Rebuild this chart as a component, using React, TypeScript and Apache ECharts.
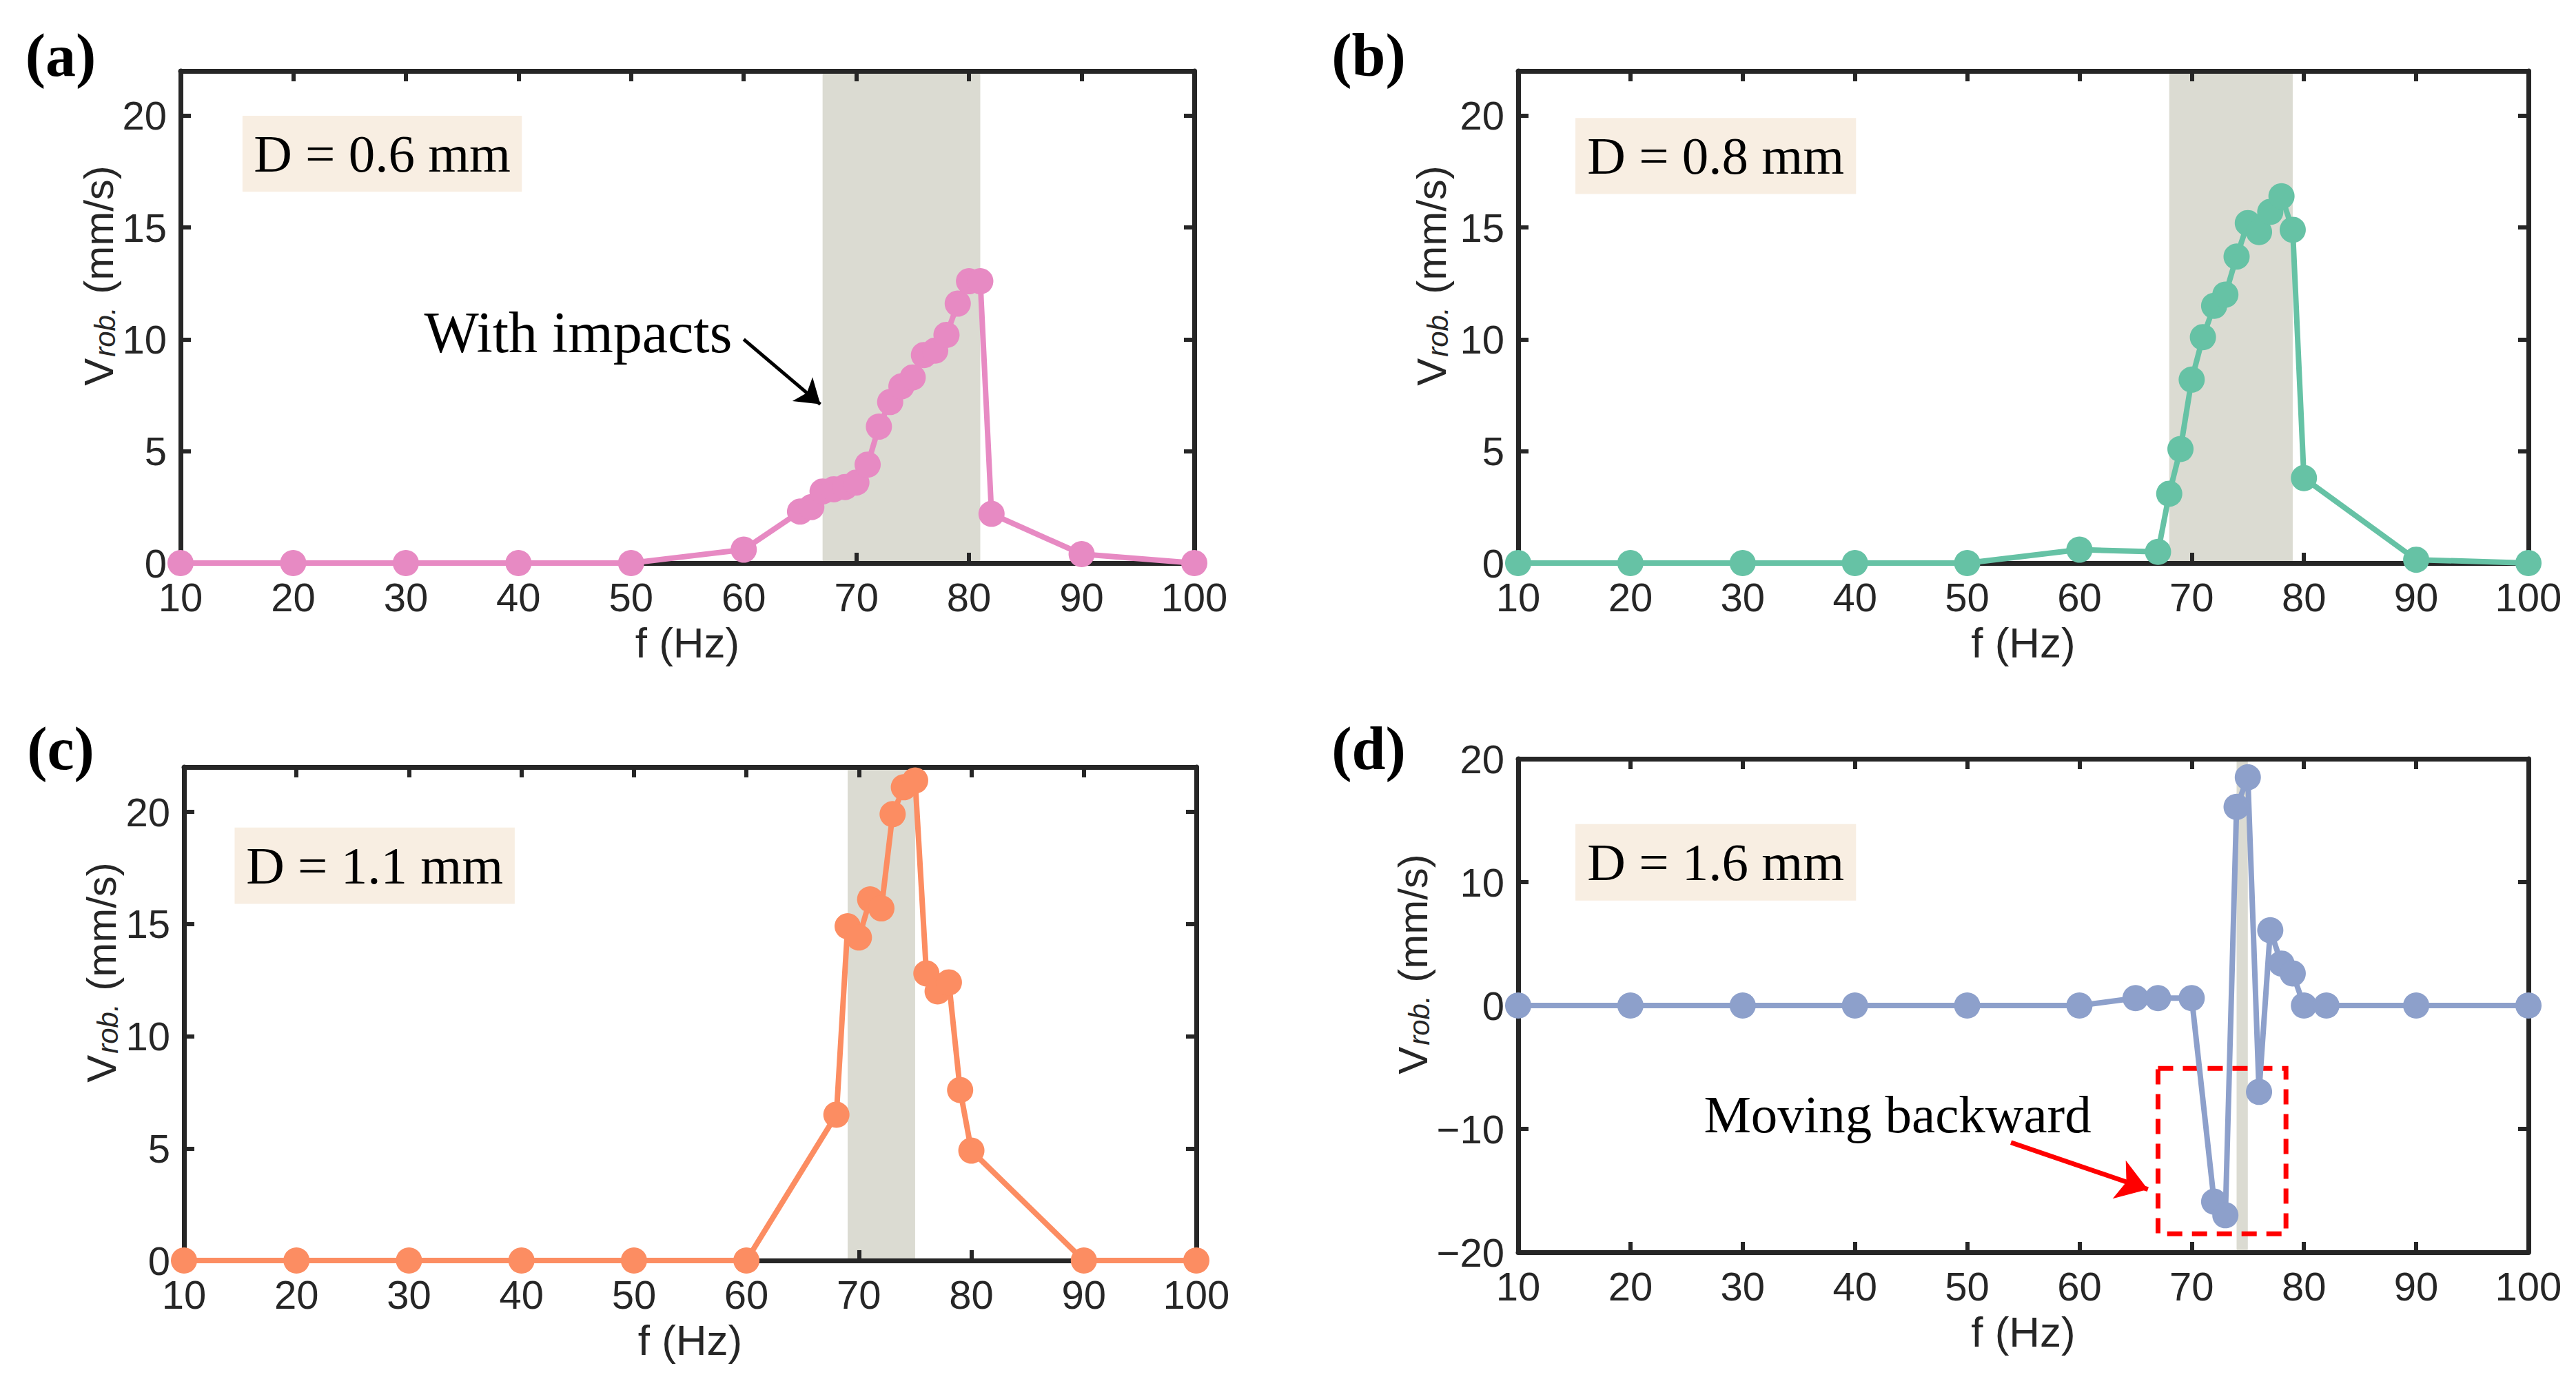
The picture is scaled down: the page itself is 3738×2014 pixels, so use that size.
import React, { useEffect, useRef } from "react";
import * as echarts from "echarts";

// ---------- data ----------
const freqA = [10, 20, 30, 40, 50, 60, 65, 66, 67, 68, 69, 70, 71, 72, 73, 74, 75, 76, 77, 78, 79, 80, 81, 82, 90, 100];
const velA = [0, 0, 0, 0, 0, 0.6, 2.3, 2.5, 3.2, 3.3, 3.4, 3.6, 4.4, 6.1, 7.2, 7.9, 8.3, 9.3, 9.5, 10.2, 11.6, 12.6, 12.6, 2.2, 0.4, 0];

const freqB = [10, 20, 30, 40, 50, 60, 67, 68, 69, 70, 71, 72, 73, 74, 75, 76, 77, 78, 79, 80, 90, 100];
const velB = [0, 0, 0, 0, 0, 0.6, 0.5, 3.1, 5.1, 8.2, 10.1, 11.5, 12.0, 13.7, 15.2, 14.8, 15.7, 16.4, 14.9, 3.8, 0.15, 0];

const freqC = [10, 20, 30, 40, 50, 60, 68, 69, 70, 71, 72, 73, 74, 75, 76, 77, 78, 79, 80, 90, 100];
const velC = [0, 0, 0, 0, 0, 0, 6.5, 14.9, 14.4, 16.1, 15.7, 19.9, 21.1, 21.4, 12.8, 12.0, 12.4, 7.6, 4.9, 0, 0];

const freqD = [10, 20, 30, 40, 50, 60, 65, 67, 70, 72, 73, 74, 75, 76, 77, 78, 79, 80, 82, 90, 100];
const velD = [0, 0, 0, 0, 0, 0, 0.6, 0.6, 0.6, -15.9, -17.0, 16.1, 18.5, -7.0, 6.1, 3.4, 2.6, 0, 0, 0, 0];

const panelLabels = ["(a)", "(b)", "(c)", "(d)"];
const dLabels = ["D = 0.6 mm", "D = 0.8 mm", "D = 1.1 mm", "D = 1.6 mm"];
// shaded impact bands [fromHz, toHz]
const bands = [[67, 81], [68, 79], [69, 75], [74, 75]];
// label boxes [x1, y1, x2, y2] in data units
const labelBoxes = [
  [15.5, 20.0, 40.3, 16.6],
  [15.1, 19.9, 40.1, 16.5],
  [14.5, 19.3, 39.4, 15.9],
  [15.1, 14.7, 40.1, 8.5],
];
const yRanges = [[0, 22, 5], [0, 22, 5], [0, 22, 5], [-20, 20, 10]];
const xRange = [10, 100, 10];

const annotA = { text: "With impacts", at: [45.3, 10.3], arrowFrom: [60, 10.0], arrowTo: [66.8, 7.1] };
const annotD = { text: "Moving backward", at: [43.8, -8.8], arrowFrom: [53.9, -11.1], arrowTo: [66.1, -14.9] };
const redBox = [67.0, -5.1, 78.4, -18.5];

// ---------- styles ----------
const colors = ["#E78AC3", "#66C2A5", "#FC8D62", "#8DA0CB"];
const axisColor = "#262626";
const bandColor = "#DBDBD2";
const boxColor = "#F8EEE2";
const SANS = "Liberation Sans";
const SERIF = "Liberation Serif";

const grids = [
  { left: 262, top: 103, width: 1471, height: 714 },
  { left: 2203, top: 103, width: 1466, height: 714 },
  { left: 267, top: 1113, width: 1469, height: 716 },
  { left: 2203, top: 1101, width: 1466, height: 716 },
];
const labelPos = [[88, 80], [1986, 80], [88, 1086], [1986, 1086]];
const yNameGaps = [84, 96, 90, 108];

export default function App() {
  const ref = useRef<HTMLDivElement>(null);

  useEffect(() => {
    if (!ref.current) return;
    const chart = echarts.init(ref.current, undefined, { renderer: "svg" });

    const freqs = [freqA, freqB, freqC, freqD];
    const vels = [velA, velB, velC, velD];

    const xAxes: any[] = [];
    const yAxes: any[] = [];
    const series: any[] = [];

    const tickStyle = { show: true, inside: true, length: 15, lineStyle: { color: axisColor, width: 6 } };
    const lineStyle = { show: true, onZero: false, lineStyle: { color: axisColor, width: 7 } };

    for (let i = 0; i < 4; i++) {
      const [ymin, ymax, yint] = yRanges[i];
      xAxes.push({
        type: "value", gridIndex: i, position: "bottom", min: xRange[0], max: xRange[1], interval: xRange[2],
        z: 1.5,
        axisLine: lineStyle, axisTick: tickStyle, splitLine: { show: false },
        axisLabel: { color: axisColor, fontFamily: SANS, fontSize: 58, margin: 20 },
        name: "f (Hz)", nameLocation: "middle", nameGap: 84,
        nameTextStyle: { color: axisColor, fontFamily: SANS, fontSize: 62 },
      });
      xAxes.push({
        type: "value", gridIndex: i, position: "top", min: xRange[0], max: xRange[1], interval: xRange[2],
        z: 1.5,
        axisLine: lineStyle, axisTick: tickStyle, splitLine: { show: false }, axisLabel: { show: false },
      });
      yAxes.push({
        type: "value", gridIndex: i, position: "left", min: ymin, max: ymax, interval: yint,
        z: 1.5,
        axisLine: lineStyle, axisTick: tickStyle, splitLine: { show: false },
        axisLabel: {
          color: axisColor, fontFamily: SANS, fontSize: 58, margin: 20,
          formatter: (v: number) => (v % yint === 0 ? (v < 0 ? "\u2212" + Math.abs(v) : String(v)) : ""),
        },
        name: "{v|V}{s|rob.}{v| (mm/s)}", nameLocation: "middle", nameGap: yNameGaps[i],
        nameTextStyle: {
          color: axisColor, fontFamily: SANS, fontSize: 60, padding: [0, 0, 0, 120],
          rich: {
            v: { fontFamily: SANS, fontSize: 60, color: axisColor },
            s: { fontFamily: SANS, fontSize: 42, fontStyle: "italic", color: axisColor, verticalAlign: "bottom", padding: [18, 2, 0, 2] },
          },
        },
      });
      yAxes.push({
        type: "value", gridIndex: i, position: "right", min: ymin, max: ymax, interval: yint,
        z: 1.5,
        axisLine: lineStyle, axisTick: tickStyle, splitLine: { show: false }, axisLabel: { show: false },
      });

      const box = labelBoxes[i];
      const areaData: any[] = [
        [
          { xAxis: bands[i][0], itemStyle: { color: bandColor }, label: { show: false } },
          { xAxis: bands[i][1] },
        ],
        [
          {
            coord: [box[0], box[1]],
            itemStyle: { color: boxColor },
            label: {
              show: true, position: "inside", formatter: dLabels[i],
              fontFamily: SERIF, fontSize: 77, color: "#000000",
            },
          },
          { coord: [box[2], box[3]] },
        ],
      ];
      if (i === 3) {
        areaData.push([
          {
            coord: [redBox[0], redBox[1]],
            itemStyle: { color: "rgba(0,0,0,0)", borderColor: "#FF0000", borderWidth: 7, borderType: [22, 14] },
            label: { show: false },
          },
          { coord: [redBox[2], redBox[3]] },
        ]);
      }

      const s: any = {
        type: "line",
        xAxisIndex: i * 2,
        yAxisIndex: i * 2,
        data: freqs[i].map((f, k) => [f, vels[i][k]]),
        symbol: "circle",
        symbolSize: 38,
        clip: false,
        color: colors[i],
        lineStyle: { color: colors[i], width: 8 },
        itemStyle: { color: colors[i] },
        emphasis: { disabled: true },
        markArea: { silent: true, data: areaData },
      };

      const annot = i === 0 ? annotA : i === 3 ? annotD : null;
      if (annot) {
        const arrowColor = i === 0 ? "#000000" : "#FF0000";
        s.markLine = {
          silent: true,
          symbol: ["none", "arrow"],
          symbolSize: i === 0 ? 34 : 44,
          label: { show: false },
          lineStyle: { color: arrowColor, width: i === 0 ? 5 : 7, type: "solid" },
          emphasis: { disabled: true },
          data: [[{ coord: annot.arrowFrom }, { coord: annot.arrowTo }]],
        };
        s.markPoint = {
          silent: true,
          symbol: "circle",
          symbolSize: 1,
          itemStyle: { color: "rgba(0,0,0,0)" },
          label: {
            show: true, position: "inside", formatter: annot.text,
            fontFamily: SERIF, fontSize: i === 0 ? 84 : 77, color: "#000000",
          },
          data: [{ coord: annot.at }],
        };
      }
      series.push(s);
    }

    const graphic = panelLabels.map((t, i) => ({
      type: "text",
      style: {
        text: t, x: labelPos[i][0], y: labelPos[i][1],
        fontFamily: SERIF, fontSize: 88, fontWeight: "bold", fill: "#000000",
        align: "center", verticalAlign: "middle",
      },
    }));

    chart.setOption({
      animation: false,
      backgroundColor: "#ffffff",
      grid: grids.map((g) => ({ ...g, containLabel: false })),
      xAxis: xAxes,
      yAxis: yAxes,
      series,
      graphic,
    });

    return () => {
      chart.dispose();
    };
  }, []);

  return (
    <div
      ref={ref}
      style={{ position: "fixed", left: 0, top: 0, width: 3738, height: 2014, background: "#ffffff" }}
    />
  );
}
